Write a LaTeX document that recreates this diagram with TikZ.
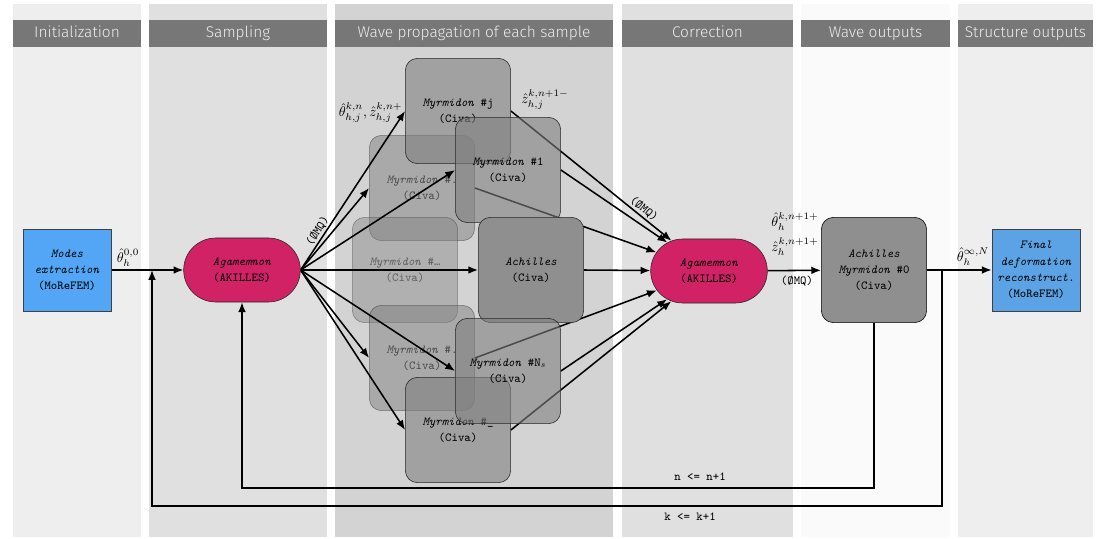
\documentclass[tikz,border=0pt]{standalone}
\usepackage{fontspec}
\newfontfamily\headfont{Fira Sans Light}
\usepackage{xcolor}
\usetikzlibrary{shapes.misc, arrows.meta, calc}

\definecolor{bandlight}{HTML}{EEEEEE}
\definecolor{bandmid}{HTML}{E0E0E0}
\definecolor{banddark}{HTML}{D3D3D3}
\definecolor{bandpale}{HTML}{FAFAFA}
\definecolor{headgray}{HTML}{777777}
\definecolor{modeblue}{HTML}{52A6F5}
\definecolor{finalblue}{HTML}{5CA3E6}
\definecolor{agared}{HTML}{D02265}

\pgfdeclarelayer{panel}
\pgfdeclarelayer{ghost}
\pgfdeclarelayer{wires}
\pgfsetlayers{panel,ghost,wires,main}

\begin{document}
\begin{tikzpicture}[
    x=0.025cm, y=0.025cm,
    >={Latex[length=7pt,width=5.5pt]},
    arrow/.style={->, line width=1.1pt},
    nodefont/.style={font=\ttfamily\fontsize{8.7}{11.5}\selectfont},
    ext/.style={rectangle, draw=black!75, fill=modeblue, minimum width=2.2cm, minimum height=2.05cm, align=center, nodefont},
    agent/.style={rounded rectangle, draw=black!85, fill=agared, minimum width=3.15cm, minimum height=1.6cm, align=center, nodefont},
    myr/.style={rectangle, rounded corners=0.3cm, draw=black!85, fill=black!50, fill opacity=0.6, text opacity=1, minimum width=2.63cm, minimum height=2.63cm, align=center, nodefont},
    ghost/.style={myr, opacity=0.5, text opacity=0.55},
    achbox/.style={myr, fill=black!44, fill opacity=1},
    tag/.style={font=\ttfamily\fontsize{8.7}{10}\selectfont, inner sep=1pt},
    mlab/.style={font=\fontsize{10}{12}\selectfont, inner sep=1pt},
    headtxt/.style={font=\headfont\fontsize{11}{13}\selectfont, text=white!93!black, text height=1.7ex, text depth=0.45ex, inner sep=0pt}
]

\useasboundingbox (0,0) rectangle (1114,-539);

% columns and their titles
\begin{pgfonlayer}{panel}
\fill[white] (0,0) rectangle (1114,-539);
\foreach \a/\b/\c/\t [count=\n] in {13/141/bandlight/Initialization, 149/327/bandmid/Sampling, 335/613/banddark/Wave propagation of each sample, 622/793/bandmid/Correction, 801/950/bandpale/Wave outputs, 958/1093/bandlight/Structure outputs}
{
    \fill[\c] (\a,-4) rectangle (\b,-537);
    \fill[headgray] (\a,-20) rectangle (\b,-47);
    \node[headtxt] (hd\n) at ({(\a+\b)/2},-33.5) {\t};
}
\end{pgfonlayer}

\node[ext] (modes) at (67,-270) {\textit{Modes}\\\textit{extraction}\\(MoReFEM)};
\node[agent] (ag1) at (242,-270) {\textit{Agamemnon}\\(AKILLES)};

% samples in the back
\begin{pgfonlayer}{ghost}
\node[ghost] (mu) at (422,-188) {\textit{Myrmidon} \#.\\(Civa)};
\node[ghost, opacity=0.42, text opacity=0.45] (mm) at (405,-270) {\textit{Myrmidon} \#…\\(Civa)};
\node[ghost] (ml) at (422,-358) {\textit{Myrmidon} \#.\\(Civa)};
\end{pgfonlayer}

% samples in front
\node[myr] (mj) at (458,-111) {\textit{Myrmidon} \#j\\(Civa)};
\node[myr] (m1) at (508,-170) {\textit{Myrmidon} \#1\\(Civa)};
\node[achbox] (ach) at (531,-270) {\textit{Achilles}\\(Civa)};
\node[myr] (mb) at (458,-430) {\textit{Myrmidon} \#\_\\(Civa)};
\node[myr] (mn) at (508,-371) {\textit{Myrmidon} \#N$_s$\\(Civa)};

\node[agent] (ag2) at (709,-271) {\textit{Agamemnon}\\(AKILLES)};
\node[achbox, draw=black] (ach0) at (874,-270) {\textit{Achilles}\\\textit{Myrmidon} \#0\\(Civa)};
\node[ext, fill=finalblue] (final) at (1036,-270) {\textit{Final}\\\textit{deformation}\\\textit{reconstruct.}\\(MoReFEM)};

\coordinate (ksplit) at (942,-270);
\coordinate (kloop) at (152,-506);
\coordinate (kjoin) at (152,-270);
\coordinate (nloop) at (ag1.south |- 0,-488);

\begin{pgfonlayer}{wires}
\draw[arrow] (modes) -- (ag1);
\draw[arrow] (ag1.east) -- node[tag, pos=0.22, sloped, above] {({\O}MQ)} (mj.west);
\draw[arrow] (ag1.east) -- (mu.west);
\draw[arrow] (ag1.east) -- (m1.west);
\draw[arrow] (ag1.east) -- (ach.west);
\draw[arrow] (ag1.east) -- (ml.west);
\draw[arrow] (ag1.east) -- (mn.west);
\draw[arrow] (ag1.east) -- (mb.west);

\draw[arrow] (mj.east) -- node[tag, pos=0.8, sloped, above] {({\O}MQ)} (ag2);
\draw[arrow] (mu.east) -- (ag2);
\draw[arrow] (m1.east) -- (ag2);
\draw[arrow] (ach.east) -- (ag2);
\draw[arrow] (ml.east) -- (ag2);
\draw[arrow] (mn.east) -- (ag2);
\draw[arrow] (mb.east) -- (ag2);

\draw[arrow] (ag2) -- (ach0);
\draw[arrow] (ach0) -- (final);

% loops
\draw[arrow] (ach0.south) |- (nloop) -- (ag1.south);
\draw[arrow] (ksplit) |- (kloop) -- (kjoin);

\node[mlab] (th00) at (128,-258) {$\hat\theta_h^{0,0}$};
\node[mlab, anchor=east] (thkn) at (404,-113) {$\hat\theta_{h,j}^{k,n}, \hat z_{h,j}^{k,n+}$};
\node[mlab] (zkn) at (545,-100) {$\hat z_{h,j}^{k,n+1-}$};
\end{pgfonlayer}

\node[mlab] (thout) at (795,-222) {$\hat\theta_h^{k,n+1+}$};
\node[mlab] (zout) at (795,-247) {$\hat z_h^{k,n+1+}$};
\node[tag] (zmq) at (797,-281) {({\O}MQ)};
\node[mlab] (thinf) at (973,-257) {$\hat\theta_h^{\infty,N}$};
\node[tag] (nstep) at (700,-477) {n <= n+1};
\node[tag] (kstep) at (690,-517) {k <= k+1};

\end{tikzpicture}
\end{document}
